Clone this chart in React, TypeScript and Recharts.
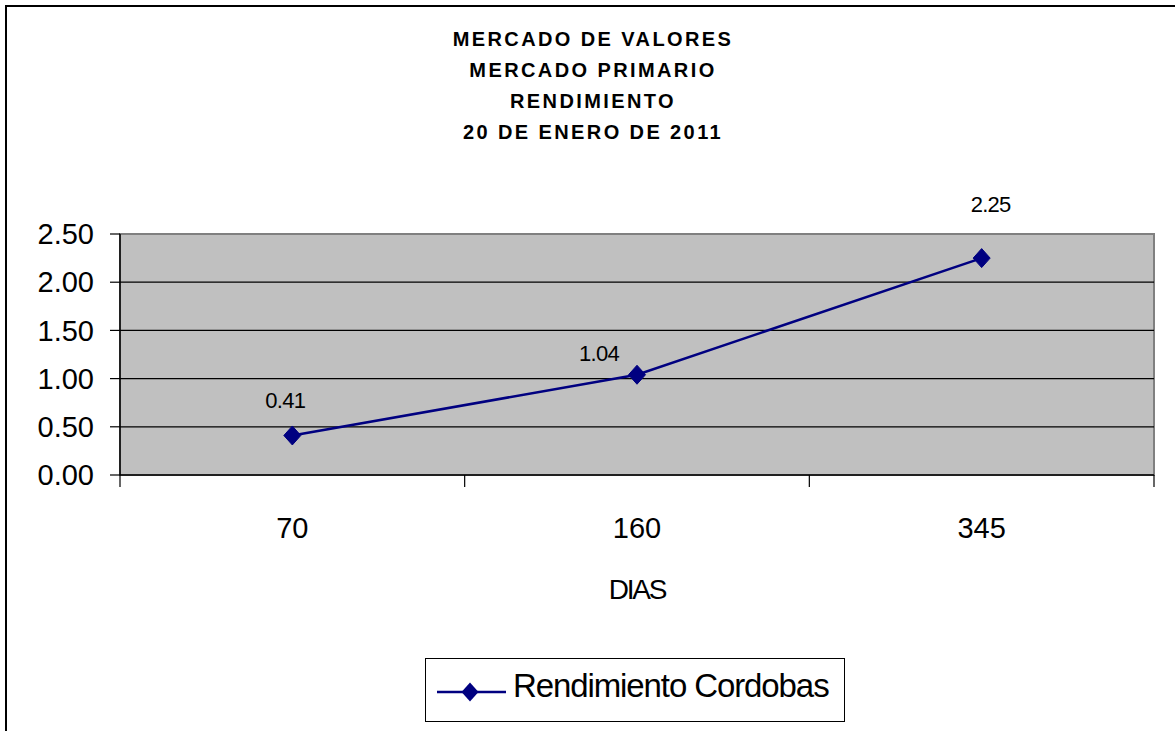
import React from 'react';
import { LineChart, Line, XAxis, YAxis, ReferenceArea, ReferenceLine } from 'recharts';

// ---- data ----
const DAYS: string[] = ['70', '160', '345'];
const YIELDS: number[] = [0.41, 1.04, 2.25];
const Y_TICKS: number[] = [0, 0.5, 1, 1.5, 2, 2.5];
const TITLE_LINES: string[] = ['MERCADO DE VALORES', 'MERCADO PRIMARIO', 'RENDIMIENTO', '20 DE ENERO DE 2011'];
const SERIES_NAME = 'Rendimiento Cordobas';
const X_TITLE = 'DIAS';

const data = DAYS.map((d, i) => ({ dias: d, rendimiento: YIELDS[i] }));

// ---- layout ----
const W = 1175;
const H = 731;
const MARGIN = { top: 234, right: 21, bottom: 126, left: 0 };
const Y_AXIS_W = 120;
const X_AXIS_H = 130;
const PLOT_W = W - MARGIN.left - MARGIN.right - Y_AXIS_W;
const PLOT_BOTTOM = H - MARGIN.bottom - X_AXIS_H;
const NAVY = '#000080';
const FONT = '"Liberation Sans", Arial, Helvetica, sans-serif';
// label placement offsets (styling), per point index
const LABEL_OFFSETS: [number, number][] = [[-7, -35], [-38, -22], [9, -54]];

const Diamond = (props: any) => {
  const { cx, cy, index } = props;
  if (cx == null || cy == null) return null;
  const w = 8.5, h = 9.5;
  return (
    <polygon
      key={`d-${index}`}
      points={`${cx},${cy - h} ${cx + w},${cy} ${cx},${cy + h} ${cx - w},${cy}`}
      fill={NAVY}
      stroke={NAVY}
    />
  );
};

const DataLabel = (props: any) => {
  const { x, y, value, index } = props;
  if (x == null || y == null) return null;
  const [dx, dy] = LABEL_OFFSETS[index] || [0, -30];
  return (
    <text
      x={x + dx}
      y={y + dy + 8}
      textAnchor="middle"
      fontFamily={FONT}
      fontSize={22}
      letterSpacing={-0.7}
      fill="#000"
    >
      {Number(value).toFixed(2)}
    </text>
  );
};

const XTick = (props: any) => {
  const { x, payload, index } = props;
  const half = PLOT_W / DAYS.length / 2;
  return (
    <g>
      <line x1={x - half} x2={x - half} y1={PLOT_BOTTOM} y2={PLOT_BOTTOM + 12} stroke="#000" strokeWidth={1.2} />
      {index === DAYS.length - 1 && (
        <line x1={x + half} x2={x + half} y1={PLOT_BOTTOM} y2={PLOT_BOTTOM + 12} stroke="#000" strokeWidth={1.2} />
      )}
      <text x={x} y={PLOT_BOTTOM + 63} textAnchor="middle" fontFamily={FONT} fontSize={29} fill="#000">
        {payload.value}
      </text>
    </g>
  );
};

export default function App() {
  return (
    <div style={{ position: 'absolute', left: 0, top: 0, width: W, height: H, overflow: 'hidden', background: '#fff' }}>
      <div
        style={{
          position: 'absolute', left: 5, top: 5, width: W + 50, height: H + 50,
          borderLeft: '2px solid #000', borderTop: '2px solid #000',
        }}
      />
      <div
        style={{
          position: 'absolute', left: 2, top: 24, width: 1182, textAlign: 'center',
          fontFamily: FONT, fontWeight: 'bold', fontSize: 20, letterSpacing: 2.4, lineHeight: '31px', color: '#000',
        }}
      >
        {TITLE_LINES.map((t) => (
          <div key={t}>{t}</div>
        ))}
      </div>
      <div style={{ position: 'absolute', left: 0, top: 0 }}>
        <LineChart width={W} height={H} data={data} margin={MARGIN}>
          <ReferenceArea
            y1={0}
            y2={2.5}
            fill="#C0C0C0"
            fillOpacity={1}
            stroke="#808080"
            strokeWidth={2}
            ifOverflow="extendDomain"
          />
          {Y_TICKS.slice(1, -1).map((v) => (
            <ReferenceLine key={v} y={v} stroke="#000" strokeWidth={1.2} />
          ))}
          <XAxis
            dataKey="dias"
            scale="band"
            height={X_AXIS_H}
            tickLine={false}
            axisLine={{ stroke: '#000', strokeWidth: 1.5 }}
            tick={<XTick />}
            interval={0}
            label={{ value: X_TITLE, position: 'insideBottom', offset: 6, fontSize: 28, fill: '#000', fontFamily: FONT, letterSpacing: -2.2 }}
          />
          <YAxis
            width={Y_AXIS_W}
            domain={[0, 2.5]}
            ticks={Y_TICKS}
            interval={0}
            tickFormatter={(v: number) => v.toFixed(2)}
            tickSize={10}
            tickMargin={16}
            tickLine={{ stroke: '#000', strokeWidth: 1.2 }}
            axisLine={{ stroke: '#000', strokeWidth: 1.5 }}
            tick={{ fontSize: 29, fill: '#000', fontFamily: FONT }}
          />
          <Line
            type="linear"
            dataKey="rendimiento"
            name={SERIES_NAME}
            stroke={NAVY}
            strokeWidth={2.5}
            dot={<Diamond />}
            activeDot={false}
            label={<DataLabel />}
            isAnimationActive={false}
          />
        </LineChart>
      </div>
      <div
        style={{
          position: 'absolute', left: 425, top: 658, width: 420, height: 64,
          border: '1px solid #000', boxSizing: 'border-box', background: '#fff',
        }}
      >
        <svg width={90} height={62} style={{ position: 'absolute', left: 0, top: 0 }}>
          <line x1={11} x2={80} y1={33} y2={33} stroke={NAVY} strokeWidth={2.5} />
          <polygon points="44,23.5 52.5,33 44,42.5 35.5,33" fill={NAVY} />
        </svg>
        <span
          style={{
            position: 'absolute', left: 87, top: 10, fontFamily: FONT, fontSize: 33,
            letterSpacing: -1.1, lineHeight: '33px', color: '#000', whiteSpace: 'nowrap',
          }}
        >
          {SERIES_NAME}
        </span>
      </div>
    </div>
  );
}
